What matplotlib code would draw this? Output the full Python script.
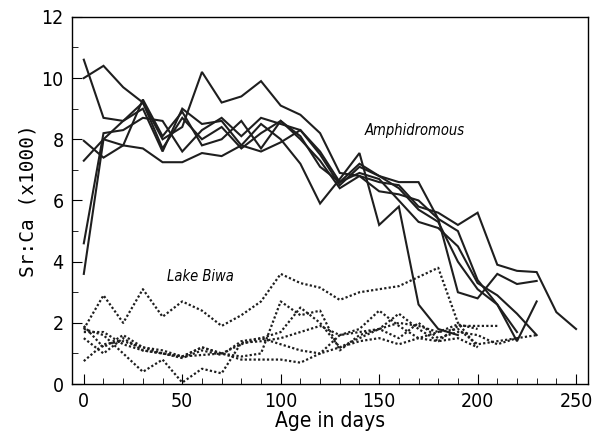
import numpy as np
import matplotlib.pyplot as plt
from matplotlib.ticker import MultipleLocator

plt.rcParams['font.family'] = ['DejaVu Sans']
plt.rcParams['font.stretch'] = 'condensed'

# amphidromous fish, Sr:Ca every 10 days
amph_1 = [10.6, 8.7, 8.6, 9.0, 7.6, 9.0, 8.5, 8.6, 7.8, 8.5, 8.0, 7.2, 5.9, 6.7, 7.55, 5.2, 5.8, 2.6, 1.8, 1.6]
amph_2 = [10.0, 10.4, 9.7, 9.2, 8.0, 8.4, 10.2, 9.2, 9.4, 9.9, 9.1, 8.8, 8.2, 6.9, 6.8, 6.6, 6.5, 5.8, 5.6, 5.2, 5.6, 3.9, 3.7, 3.66, 2.35, 1.8]
amph_3 = [7.95, 7.4, 7.8, 9.3, 8.1, 8.9, 7.8, 8.0, 8.6, 7.7, 8.6, 8.0, 7.3, 6.4, 6.8, 6.3, 6.2, 6.0, 5.4, 3.0, 2.8, 3.6, 3.27, 3.37]
amph_4 = [7.3, 8.0, 7.8, 7.7, 7.25, 7.25, 7.55, 7.45, 7.8, 7.6, 7.9, 8.3, 7.5, 6.5, 7.1, 6.8, 6.4, 5.7, 5.3, 4.0, 3.1, 2.6, 1.4, 2.7]
amph_5 = [4.6, 8.2, 8.3, 8.7, 8.6, 7.6, 8.3, 8.7, 8.1, 8.7, 8.5, 8.3, 7.6, 6.6, 7.2, 6.8, 6.6, 6.6, 5.4, 5.0, 3.4, 2.6, 1.7]
amph_6 = [3.6, 8.0, 8.6, 9.2, 7.7, 8.7, 8.0, 8.4, 7.7, 8.2, 8.6, 8.1, 7.1, 6.6, 6.9, 6.7, 6.0, 5.3, 5.1, 4.5, 3.3, 2.9, 2.3, 1.6]

# Lake Biwa fish
biwa_1 = [1.8, 2.9, 2.0, 3.1, 2.2, 2.7, 2.4, 1.9, 2.25, 2.7, 3.6, 3.3, 3.15, 2.75, 3.0, 3.1, 3.2, 3.5, 3.8, 2.0, 1.2]
biwa_2 = [1.9, 1.2, 1.6, 1.2, 1.0, 0.9, 1.2, 1.0, 0.9, 1.0, 2.7, 2.25, 2.4, 1.1, 1.6, 1.8, 2.3, 1.8, 1.4, 1.5, 1.2]
biwa_3 = [1.8, 1.6, 1.0, 0.4, 0.8, 0.05, 0.5, 0.35, 1.35, 1.4, 1.5, 1.7, 1.9, 1.6, 1.8, 2.4, 1.9, 1.5, 1.4, 1.9, 1.9, 1.9]
biwa_4 = [0.75, 1.3, 1.4, 1.2, 1.1, 0.9, 1.2, 1.0, 0.8, 0.8, 0.8, 0.7, 1.0, 1.2, 1.5, 1.8, 2.0, 1.9, 1.7, 1.8, 1.3, 1.4, 1.5]
biwa_5 = [1.5, 1.0, 1.5, 1.1, 1.0, 0.85, 1.1, 0.95, 1.4, 1.5, 1.3, 1.1, 1.0, 1.6, 1.7, 1.8, 1.5, 2.0, 1.5, 1.7, 1.6, 1.3, 1.5, 1.6]
biwa_6 = [1.7, 1.7, 1.3, 1.1, 1.0, 0.9, 0.95, 1.0, 1.3, 1.5, 1.7, 2.5, 2.0, 1.2, 1.4, 1.5, 1.3, 1.5, 1.7, 1.95, 1.8]

fig = plt.figure(figsize=(5.95, 4.44), dpi=100)
ax = fig.add_axes([0.121, 0.135, 0.867, 0.827])

for y in [amph_1, amph_2, amph_3, amph_4, amph_5, amph_6]:
    x = np.arange(len(y)) * 10
    ax.plot(x, y, color='#1e1e1e', lw=1.5, solid_joinstyle='miter')

for y in [biwa_1, biwa_2, biwa_3, biwa_4, biwa_5, biwa_6]:
    x = np.arange(len(y)) * 10
    ax.plot(x, y, color='#1e1e1e', lw=1.6, linestyle=(0, (1.0, 1.0)))

ax.text(168, 8.3, 'Amphidromous', style='italic', fontsize=10.5, ha='center', va='center')
ax.text(59, 3.5, 'Lake Biwa', style='italic', fontsize=10.5, ha='center', va='center')

ax.set_xlim(-6, 256)
ax.set_ylim(0, 12)
ax.xaxis.set_major_locator(MultipleLocator(50))
ax.xaxis.set_minor_locator(MultipleLocator(10))
ax.yaxis.set_major_locator(MultipleLocator(2))
ax.yaxis.set_minor_locator(MultipleLocator(1))
ax.tick_params(which='both', direction='in', labelsize=14, pad=6)
ax.tick_params(which='major', length=7)
ax.tick_params(which='minor', length=4)
ax.set_xlabel('Age in days', fontsize=15, labelpad=0)
ax.set_ylabel('Sr:Ca (x1000)', fontsize=14, labelpad=3, family='DejaVu Sans Mono')
for s in ax.spines.values():
    s.set_linewidth(1.0)

plt.savefig('out.png', dpi=100)
